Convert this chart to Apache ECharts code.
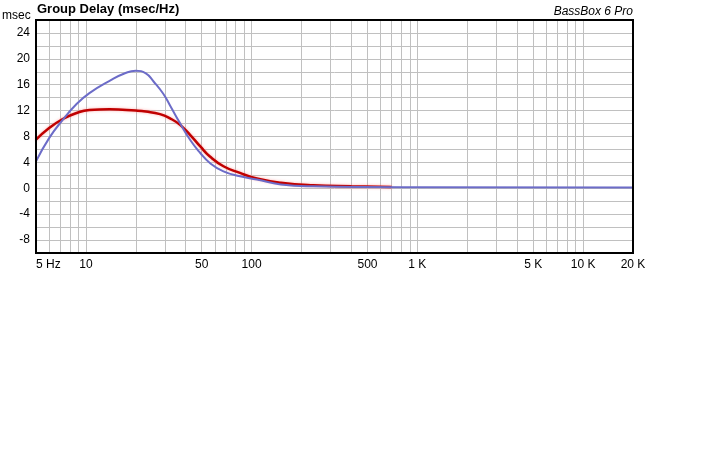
<!DOCTYPE html>
<html>
<head>
<meta charset="utf-8">
<script src="https://cdn.jsdelivr.net/npm/echarts@6/dist/echarts.min.js"></script>
<style>
  html, body { margin: 0; padding: 0; background: #fff; }
  #chart { width: 720px; height: 450px; }
</style>
</head>
<body>
<div id="chart"></div>
<script>
// frequency (Hz) / group delay (msec)
var redFreq = [5, 6, 7.25, 8.7, 10.5, 13.9, 20, 23, 28, 32.2, 37, 42.5, 49, 56, 67.6, 85, 107.5, 150, 235, 400, 700]
var redVals = [7.5, 9.3, 10.7, 11.6, 12.1, 12.2, 12.0, 11.85, 11.45, 10.8, 9.8, 8.26, 6.46, 4.9, 3.4, 2.37, 1.5, 0.85, 0.45, 0.3, 0.2]
var blueFreq = [5, 6, 7.25, 8.7, 10.5, 13.9, 17.5, 20, 23, 25.6, 29.3, 32.5, 36.5, 42.5, 49, 56, 67.6, 85, 107.5, 150, 235, 1000, 20000]
var blueVals = [4.15, 7.75, 10.57, 12.9, 14.7, 16.6, 17.85, 18.15, 17.75, 16.5, 14.6, 12.6, 10.3, 7.5, 5.45, 3.9, 2.6, 1.85, 1.35, 0.6, 0.3, 0.15, 0.12]
// x grid lines and labels
var xGrid = [5, 6, 7, 8, 9, 10, 20, 30, 40, 50, 60, 70, 80, 90, 100, 200, 300, 400, 500, 600, 700, 800, 900,
  1000, 2000, 3000, 4000, 5000, 6000, 7000, 8000, 9000, 10000, 20000]
var xLabels = [5, 10, 50, 100, 500, 1000, 5000, 10000, 20000]
var xLabelText = { 5: '5 Hz', 1000: '1 K', 5000: '5 K', 10000: '10 K', 20000: '20 K' }

function pairs (xs, ys) {
  return xs.map(function (x, i) { return [x, ys[i]] })
}

var chart = echarts.init(document.getElementById('chart'))
var font = 'Liberation Sans, Arial, sans-serif'
var option = {
  animation: false,
  backgroundColor: '#fff',
  title: [{
    text: 'Group Delay (msec/Hz)',
    left: 37,
    top: 3,
    padding: 0,
    textStyle: { fontFamily: font, fontSize: 13, fontWeight: 'bold', color: '#000' }
  }, {
    text: 'msec',
    left: 2,
    top: 10,
    padding: 0,
    textStyle: { fontFamily: font, fontSize: 12, fontWeight: 'normal', color: '#000' }
  }, {
    text: 'BassBox 6 Pro',
    right: 87,
    top: 6,
    padding: 0,
    textStyle: { fontFamily: font, fontSize: 12, fontStyle: 'italic', fontWeight: 'normal', color: '#000' }
  }],
  grid: {
    left: 36,
    right: 87,
    top: 20,
    bottom: 197,
    show: true,
    borderColor: '#000',
    borderWidth: 2,
    z: 10
  },
  xAxis: {
    type: 'log',
    logBase: 10,
    min: 5,
    max: 20000,
    axisLine: { show: false },
    axisTick: { show: false, customValues: xGrid },
    splitLine: { show: true, lineStyle: { color: '#c0c0c0', width: 1 } },
    axisLabel: {
      customValues: xLabels,
      color: '#000',
      fontFamily: font,
      fontSize: 12,
      margin: 6,
      alignMinLabel: 'left',
      formatter: function (v) {
        var k = Math.round(v)
        return xLabelText[k] || String(k)
      }
    }
  },
  yAxis: {
    type: 'value',
    min: -10,
    max: 26,
    interval: 2,
    axisLine: { show: false },
    axisTick: { show: false },
    splitLine: { show: true, lineStyle: { color: '#c0c0c0', width: 1 } },
    axisLabel: {
      color: '#000',
      fontFamily: font,
      fontSize: 12,
      margin: 6,
      formatter: function (v) {
        return (v % 4 === 0 && v > -10 && v < 26) ? String(v) : ''
      }
    }
  },
  series: [{
    type: 'line',
    data: pairs(redFreq, redVals),
    smooth: 0.5,
    showSymbol: false,
    lineStyle: { color: '#c00000', width: 2.5, shadowColor: 'rgba(255,140,140,0.7)', shadowBlur: 3 }
  }, {
    type: 'line',
    data: pairs(blueFreq, blueVals),
    smooth: 0.5,
    showSymbol: false,
    lineStyle: { color: '#6c6cc8', width: 2 }
  }]
}
chart.setOption(option)
</script>
</body>
</html>
